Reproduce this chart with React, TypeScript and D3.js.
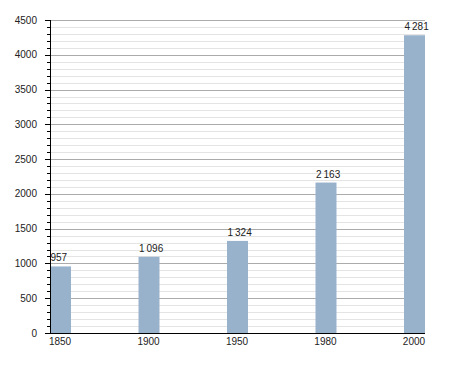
import React from "react";
import * as d3 from "d3";

const years = ["1850", "1900", "1950", "1980", "2000"];
const values = [957, 1096, 1324, 2163, 4281];
const labels = ["957", "1\u2009096", "1\u2009324", "2\u2009163", "4\u2009281"];
const yMajorTicks = [0, 500, 1000, 1500, 2000, 2500, 3000, 3500, 4000, 4500];

const W = 455;
const H = 373;
const left = 50;
const right = 425;
const top = 20;
const bottom = 333;

export default function App() {
  const x = d3.scaleBand<string>().domain(years).range([left, right]).paddingInner(0.7627).paddingOuter(0);
  const y = d3.scaleLinear().domain([0, 4500]).range([bottom, top]);
  const minor = d3.range(0, 4501, 100).filter((v) => v % 500 !== 0);
  const font = "'Liberation Sans', Arial, sans-serif";
  return (
    <svg width={W} height={H} style={{ position: "absolute", left: 0, top: 0 }} fontFamily={font}>
      <rect width={W} height={H} fill="#fff" />
      {minor.map((v) => (
        <line key={"mg" + v} x1={left} x2={right} y1={Math.round(y(v)) + 0.5} y2={Math.round(y(v)) + 0.5} stroke="#e4e4e4" />
      ))}
      {yMajorTicks.filter((v) => v > 0).map((v) => (
        <line key={"Mg" + v} x1={left} x2={right} y1={Math.round(y(v)) + 0.5} y2={Math.round(y(v)) + 0.5} stroke="#ababab" />
      ))}
      {years.map((yr, i) => (
        <rect key={"b" + yr} x={x(yr)!} y={y(values[i])} width={x.bandwidth()} height={bottom - y(values[i])} fill="#99b2cc" />
      ))}
      {years.map((yr, i) => (
        <text key={"l" + yr} x={x(yr)! + 0.5} y={y(values[i]) - 5} fontSize={10} fill="#222">
          {labels[i]}
        </text>
      ))}
      {minor.map((v) => (
        <line key={"mt" + v} x1={left - 3} x2={left} y1={Math.round(y(v)) + 0.5} y2={Math.round(y(v)) + 0.5} stroke="#000" />
      ))}
      {yMajorTicks.map((v) => (
        <g key={"yt" + v}>
          <line x1={left - 5} x2={left} y1={Math.round(y(v)) + 0.5} y2={Math.round(y(v)) + 0.5} stroke="#000" />
          <text x={37} y={y(v)} dy="0.35em" textAnchor="end" fontSize={10} fill="#222">
            {v}
          </text>
        </g>
      ))}
      <line x1={left + 0.5} x2={left + 0.5} y1={top} y2={bottom + 0.5} stroke="#000" />
      <line x1={left} x2={right} y1={bottom + 0.5} y2={bottom + 0.5} stroke="#000" />
      {years.map((yr) => (
        <text key={"x" + yr} x={x(yr)! + x.bandwidth() / 2 - 0.5} y={345} textAnchor="middle" fontSize={10} fill="#222">
          {yr}
        </text>
      ))}
    </svg>
  );
}
